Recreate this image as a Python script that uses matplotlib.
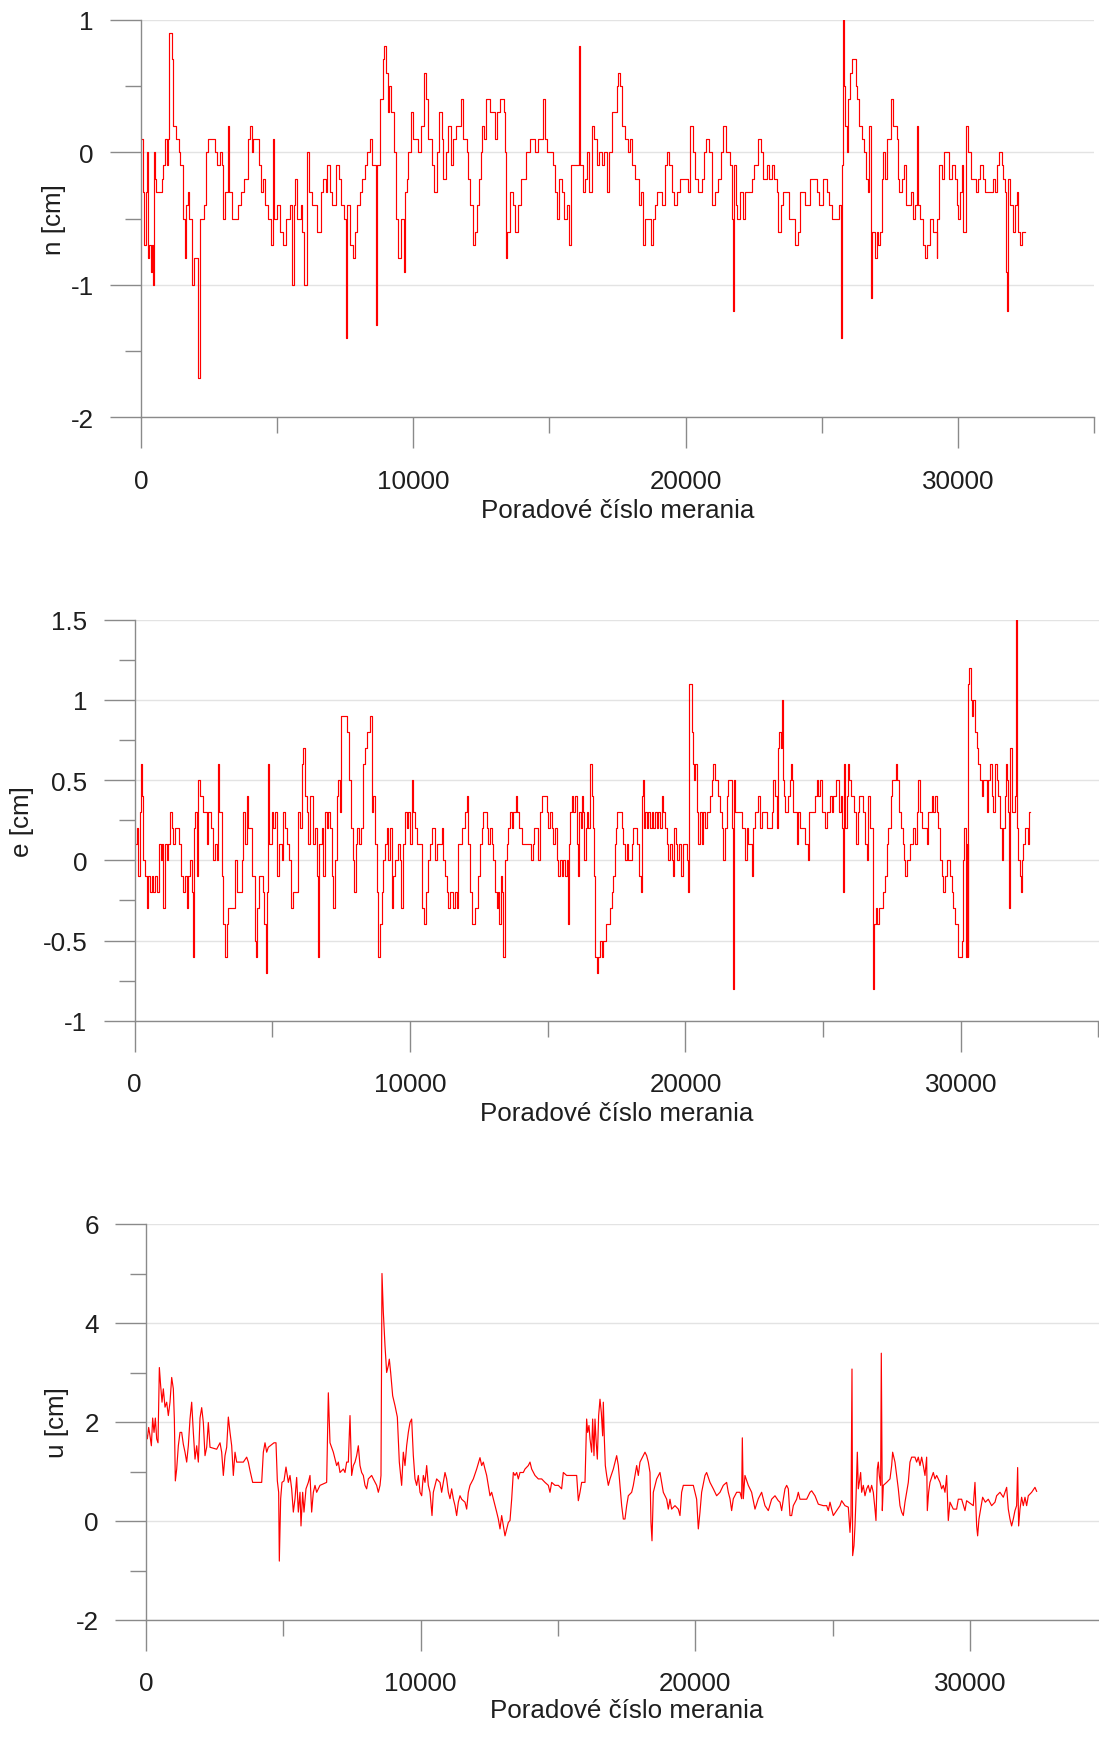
import matplotlib
matplotlib.use("Agg")
import matplotlib.pyplot as plt
from matplotlib.ticker import MultipleLocator, FuncFormatter

plt.rcParams['font.family'] = ['Liberation Sans', 'DejaVu Sans']
plt.rcParams['axes.unicode_minus'] = False

# ---------------- data: n [cm]  (measurement index, value) ----------------
n_pts = [(0,0.1),(60,-0.3),(120,-0.7),(180,-0.3),(220,0.0),(260,-0.8),(300,-0.7),(350,-0.9),(400,-0.7),(430,-1.0),
(460,0.0),(500,-0.2),(560,-0.3),(760,-0.2),(820,-0.1),(890,0.1),(950,-0.1),(1000,0.1),(1040,0.9),(1140,0.7),
(1190,0.2),(1280,0.1),(1380,0.0),(1450,-0.1),(1550,-0.5),(1600,-0.8),(1650,-0.4),(1720,-0.3),(1780,-0.5),(1880,-1.0),
(1960,-0.8),(2080,-1.7),(2160,-0.5),(2300,-0.4),(2370,0.0),(2450,0.1),(2700,0.0),(2800,-0.1),(2900,0.0),(2970,-0.1),
(3020,-0.5),(3080,-0.3),(3190,0.2),(3230,-0.3),(3350,-0.5),(3550,-0.4),(3680,-0.3),(3800,-0.2),(3940,0.1),(4000,0.2),
(4060,0.0),(4130,0.1),(4330,-0.1),(4400,-0.3),(4470,-0.2),(4560,-0.4),(4650,-0.5),(4760,-0.7),(4860,0.1),(4900,-0.5),
(5000,-0.4),(5120,-0.6),(5210,-0.7),(5330,-0.5),(5460,-0.4),(5553,-1.0),(5614,-0.4),(5663,-0.2),(5737,-0.5),(5860,-0.4),
(5921,-0.6),(5983,-1.0),(6081,0.0),(6167,-0.3),(6290,-0.4),(6474,-0.6),(6597,-0.3),(6683,-0.2),(6781,-0.3),(6843,-0.1),
(6941,-0.3),(7027,-0.4),(7150,-0.1),(7273,-0.2),(7359,-0.4),(7457,-0.5),(7518,-1.4),(7580,-0.4),(7678,-0.7),(7789,-0.8),
(7850,-0.6),(7924,-0.4),(8047,-0.3),(8133,-0.2),(8231,-0.1),(8317,0.0),(8415,0.1),(8501,-0.1),(8624,-1.3),(8685,-0.1),
(8784,0.4),(8870,0.7),(8931,0.8),(8993,0.6),(9054,0.3),(9116,0.5),(9177,0.3),(9300,0.0),(9361,-0.5),(9447,-0.8),
(9545,-0.5),(9660,-0.9),(9697,-0.3),(9758,-0.2),(9819,0.0),(9905,0.3),(9978,0.1),(10186,0.0),(10272,0.2),(10394,0.6),
(10468,0.4),(10553,0.1),(10676,-0.1),(10761,-0.3),(10860,0.0),(10957,0.3),(11043,0.1),(11104,-0.2),(11202,0.0),(11288,0.2),
(11373,-0.1),(11471,0.1),(11569,0.2),(11741,0.4),(11839,0.1),(11961,0.0),(12022,-0.2),(12083,-0.4),(12181,-0.7),(12267,-0.6),
(12353,-0.4),(12414,-0.2),(12475,0.0),(12536,0.2),(12597,0.1),(12671,0.4),(12818,0.3),(13001,0.1),(13087,0.3),(13185,0.4),
(13332,0.3),(13369,0.0),(13405,-0.8),(13454,-0.6),(13552,-0.3),(13650,-0.4),(13736,-0.6),(13858,-0.4),(13944,-0.2),(14140,0.0),
(14287,0.1),(14470,0.0),(14593,0.1),(14752,0.4),(14837,0.1),(14899,0.0),(15119,-0.1),(15205,-0.3),(15266,-0.5),(15364,-0.2),
(15450,-0.3),(15535,-0.5),(15633,-0.4),(15719,-0.7),(15780,-0.1),(16086,0.8),(16123,-0.1),(16221,-0.3),(16306,-0.2),(16367,0.0),
(16465,-0.3),(16563,0.2),(16637,0.1),(16735,-0.1),(16833,0.0),(16918,-0.1),(17004,0.0),(17126,-0.3),(17200,0.0),(17285,0.3),
(17469,0.5),(17530,0.6),(17591,0.5),(17677,0.2),(17775,0.1),(17873,0.0),(17959,0.1),(18020,-0.1),(18142,-0.2),(18277,-0.4),
(18350,-0.3),(18424,-0.7),(18509,-0.5),(18717,-0.7),(18815,-0.5),(18877,-0.4),(18962,-0.3),(19146,-0.4),(19244,-0.1),(19305,0.0),
(19403,-0.1),(19489,-0.3),(19574,-0.4),(19672,-0.3),(19795,-0.2),(20101,-0.3),(20162,0.2),(20260,0.0),(20345,-0.2),(20468,-0.3),
(20590,-0.2),(20676,0.0),(20749,0.1),(20872,0.0),(20957,-0.4),(21080,-0.3),(21202,-0.2),(21288,0.0),(21386,0.2),(21484,0.0),
(21631,-0.1),(21704,-0.5),(21729,-1.2),(21778,-0.1),(21851,-0.4),(21900,-0.5),(21998,-0.3),(22096,-0.5),(22181,-0.3),(22426,-0.2),
(22512,-0.1),(22671,0.1),(22757,0.0),(22855,-0.2),(22977,-0.1),(23075,-0.2),(23161,-0.1),(23246,-0.2),(23344,-0.3),(23405,-0.6),
(23491,-0.4),(23589,-0.3),(23809,-0.5),(24030,-0.7),(24140,-0.6),(24204,-0.3),(24388,-0.4),(24571,-0.2),(24816,-0.3),(24914,-0.4),
(25036,-0.2),(25183,-0.3),(25281,-0.4),(25367,-0.5),(25648,-0.4),(25697,-1.4),(25734,-0.1),(25771,1.0),(25820,0.5),(25856,0.2),
(25918,0.0),(25979,0.4),(26040,0.6),(26101,0.7),(26248,0.5),(26309,0.4),(26383,0.2),(26493,0.1),(26554,0.0),(26615,-0.2),
(26689,-0.3),(26750,0.2),(26799,-1.1),(26836,-0.6),(26958,-0.8),(27019,-0.6),(27080,-0.7),(27142,-0.6),(27203,-0.2),(27264,0.0),
(27325,-0.2),(27386,0.1),(27546,0.4),(27631,0.2),(27754,0.1),(27815,-0.2),(27852,-0.3),(27937,-0.2),(28023,-0.1),(28096,-0.4),
(28280,-0.3),(28341,-0.5),(28427,-0.4),(28488,0.2),(28549,-0.4),(28610,-0.5),(28708,-0.7),(28794,-0.8),(28880,-0.7),(28978,-0.5),
(29076,-0.6),(29222,-0.8),(29247,-0.5),(29320,-0.1),(29406,-0.2),(29492,0.0),(29688,-0.2),(29773,-0.1),(29896,-0.2),(29957,-0.4),
(30018,-0.5),(30079,-0.3),(30140,-0.1),(30202,-0.6),(30287,0.2),(30385,0.0),(30471,-0.2),(30667,-0.3),(30752,-0.2),(30814,-0.1),
(30912,-0.2),(30997,-0.3),(31279,-0.2),(31364,-0.3),(31450,-0.1),(31511,0.0),(31609,-0.1),(31670,-0.2),(31732,-0.3),(31768,-0.9),
(31793,-1.2),(31830,-0.2),(31915,-0.4),(32013,-0.6),(32100,-0.4),(32160,-0.3),(32221,-0.6),(32282,-0.7),(32343,-0.6),(32466,-0.6)]

# ---------------- data: e [cm] ----------------
e_pts = [(0,0.1),(71,0.2),(132,-0.1),(192,0.3),(229,0.6),(277,0.4),(313,0.0),(374,-0.1),(434,-0.3),(495,-0.1),
(555,-0.2),(616,-0.1),(677,-0.2),(737,-0.1),(798,-0.2),(894,0.1),(943,0.0),(991,0.1),(1040,-0.3),(1100,0.1),
(1161,0.0),(1221,0.1),(1282,0.3),(1342,0.2),(1403,0.1),(1463,0.2),(1621,0.1),(1681,-0.1),(1742,-0.2),(1826,-0.1),
(1887,-0.3),(1948,-0.1),(2008,0.0),(2069,-0.2),(2105,-0.6),(2153,0.2),(2202,0.3),(2250,-0.1),(2311,0.5),(2371,0.4),
(2492,0.3),(2613,0.1),(2674,0.3),(2759,0.2),(2855,0.0),(2916,0.1),(2976,0.0),(3013,0.6),(3073,0.3),(3158,-0.1),
(3219,-0.4),(3279,-0.6),(3340,-0.4),(3400,-0.3),(3642,0.0),(3703,-0.2),(3884,0.0),(3945,0.3),(4005,0.1),(4066,0.4),
(4126,0.2),(4247,-0.1),(4369,-0.5),(4405,-0.6),(4453,-0.3),(4526,-0.1),(4671,-0.2),(4707,-0.4),(4756,-0.7),(4792,-0.2),
(4829,0.6),(4889,0.1),(4974,0.3),(5034,0.2),(5095,0.3),(5180,-0.1),(5252,0.1),(5337,0.0),(5397,0.3),(5458,0.2),
(5543,0.1),(5615,0.0),(5676,-0.3),(5736,-0.2),(5942,0.3),(6003,0.2),(6075,0.6),(6124,0.7),(6184,0.4),(6245,0.3),
(6305,0.1),(6366,0.4),(6463,0.1),(6547,0.2),(6608,-0.1),(6668,-0.6),(6705,0.1),(6790,0.2),(6850,-0.1),(6911,0.3),
(6971,0.2),(7032,0.3),(7092,0.2),(7153,-0.1),(7213,-0.3),(7274,0.0),(7334,0.4),(7395,0.5),(7455,0.3),(7492,0.9),
(7722,0.8),(7794,0.5),(7843,0.2),(7915,0.0),(7964,-0.2),(8036,0.1),(8085,0.2),(8157,0.1),(8206,0.2),(8278,0.6),
(8363,0.7),(8424,0.8),(8545,0.9),(8605,0.3),(8666,0.4),(8726,0.1),(8787,-0.2),(8847,-0.6),(8908,-0.4),(8968,-0.2),
(9029,0.0),(9089,0.1),(9150,0.2),(9211,0.0),(9271,0.2),(9332,-0.3),(9392,-0.1),(9453,0.0),(9574,0.1),(9634,0.0),
(9670,-0.3),(9731,0.1),(9816,0.3),(9876,0.2),(9937,0.3),(9997,0.1),(10058,0.5),(10118,0.3),(10179,0.2),(10239,0.1),
(10421,-0.3),(10506,-0.4),(10578,-0.2),(10663,0.0),(10724,0.1),(10784,0.2),(10905,0.0),(10966,0.1),(11147,0.2),(11208,0.0),
(11268,-0.1),(11329,-0.2),(11390,-0.3),(11450,-0.2),(11571,-0.3),(11632,-0.2),(11692,-0.3),(11753,0.1),(11874,0.2),(11995,0.3),
(12055,0.4),(12116,0.1),(12176,-0.2),(12237,-0.4),(12358,-0.3),(12479,-0.1),(12540,0.1),(12600,0.2),(12661,0.3),(12782,0.2),
(12842,0.1),(12903,0.2),(12963,0.1),(13024,0.0),(13084,-0.2),(13145,-0.3),(13205,-0.2),(13242,-0.4),(13290,-0.1),(13351,-0.2),
(13387,-0.6),(13447,0.0),(13508,0.1),(13568,0.2),(13629,0.3),(13690,0.2),(13750,0.3),(13847,0.4),(13895,0.3),(13968,0.2),
(14053,0.1),(14380,0.0),(14452,0.1),(14513,0.2),(14658,0.0),(14719,0.3),(14779,0.4),(14961,0.3),(15021,0.2),(15082,0.3),
(15142,0.2),(15203,0.1),(15263,0.2),(15324,0.0),(15384,-0.1),(15445,0.0),(15505,-0.1),(15566,0.0),(15627,-0.1),(15687,0.0),
(15723,-0.4),(15772,0.1),(15808,0.3),(15868,0.4),(15929,0.3),(15990,0.4),(16050,0.1),(16086,-0.1),(16147,0.3),(16195,0.2),
(16232,0.4),(16292,0.3),(16329,0.0),(16377,0.2),(16413,0.3),(16474,0.2),(16534,0.6),(16595,0.4),(16655,0.2),(16680,-0.1),
(16716,-0.6),(16776,-0.7),(16837,-0.6),(16897,-0.5),(16958,-0.6),(17018,-0.5),(17103,-0.4),(17261,-0.3),(17321,-0.2),(17382,-0.1),
(17442,0.1),(17478,0.2),(17527,0.3),(17684,0.2),(17745,0.1),(17805,0.0),(17866,0.1),(17926,0.0),(18047,0.1),(18108,0.2),
(18229,0.1),(18326,-0.1),(18374,-0.2),(18410,0.4),(18447,0.5),(18495,0.2),(18532,0.3),(18592,0.2),(18653,0.3),(18713,0.2),
(18774,0.3),(18834,0.2),(18895,0.3),(18956,0.2),(19016,0.3),(19077,0.2),(19137,0.4),(19198,0.3),(19258,0.2),(19319,0.1),
(19379,0.0),(19440,0.1),(19500,0.0),(19536,-0.1),(19597,0.2),(19657,0.1),(19706,0.0),(19778,0.1),(19827,-0.1),(19899,0.1),
(20045,0.0),(20105,-0.2),(20142,1.1),(20226,0.8),(20263,0.6),(20311,0.5),(20347,0.6),(20408,0.3),(20468,0.1),(20529,0.3),
(20589,0.1),(20650,0.3),(20710,0.2),(20771,0.3),(20892,0.4),(20953,0.5),(21013,0.6),(21074,0.5),(21195,0.4),(21255,0.3),
(21316,0.2),(21376,0.0),(21437,0.2),(21497,0.4),(21558,0.5),(21679,0.2),(21715,-0.8),(21764,0.5),(21800,0.3),(22042,0.2),
(22163,0.0),(22224,0.2),(22284,0.1),(22405,-0.1),(22466,0.2),(22526,0.3),(22647,0.4),(22708,0.2),(22768,0.3),(22950,0.2),
(23131,0.3),(23192,0.5),(23252,0.4),(23313,0.2),(23349,0.7),(23398,0.8),(23459,0.7),(23507,1.0),(23531,0.7),(23555,0.5),
(23592,0.4),(23628,0.3),(23737,0.4),(23797,0.5),(23834,0.6),(23882,0.5),(23919,0.3),(24040,0.1),(24100,0.3),(24161,0.2),
(24342,0.1),(24439,0.0),(24499,0.3),(24705,0.4),(24766,0.5),(24826,0.4),(24887,0.5),(24948,0.3),(25068,0.2),(25129,0.3),
(25250,0.4),(25311,0.3),(25371,0.4),(25468,0.5),(25589,0.3),(25638,0.4),(25674,0.2),(25710,-0.2),(25758,0.6),(25807,0.2),
(25855,0.4),(25904,0.6),(25952,0.5),(26000,0.4),(26134,0.3),(26194,0.1),(26255,0.3),(26315,0.4),(26461,0.3),(26521,0.1),
(26582,0.0),(26642,0.4),(26703,0.2),(26799,-0.8),(26848,-0.4),(26908,-0.3),(26969,-0.4),(27041,-0.3),(27187,-0.2),(27247,-0.1),
(27308,0.1),(27368,0.2),(27453,0.4),(27514,0.5),(27635,0.6),(27695,0.5),(27768,0.3),(27816,0.2),(27889,0.1),(27937,0.0),
(27986,-0.1),(28034,0.0),(28155,0.1),(28276,0.2),(28337,0.1),(28397,0.3),(28458,0.5),(28518,0.3),(28579,0.2),(28761,0.1),
(28821,0.3),(28942,0.4),(29003,0.3),(29063,0.4),(29124,0.3),(29184,0.2),(29245,0.0),(29305,-0.1),(29366,-0.2),(29426,-0.1),
(29487,0.0),(29608,-0.1),(29668,-0.2),(29729,-0.3),(29789,-0.4),(29910,-0.6),(30032,-0.5),(30092,0.0),(30128,0.2),(30177,-0.6),
(30213,0.1),(30249,-0.6),(30274,1.1),(30310,1.2),(30358,1.0),(30407,0.9),(30455,1.0),(30516,0.8),(30576,0.7),(30637,0.6),
(30697,0.5),(30758,0.4),(30818,0.5),(30939,0.3),(31000,0.5),(31060,0.6),(31121,0.4),(31182,0.3),(31242,0.6),(31303,0.5),
(31363,0.4),(31424,0.2),(31484,0.0),(31545,0.2),(31605,0.4),(31641,0.6),(31690,0.5),(31726,0.3),(31763,-0.3),(31787,0.7),
(31847,0.3),(31968,0.4),(32005,1.5),(32029,0.8),(32053,0.2),(32090,0.0),(32150,-0.1),(32187,-0.2),(32235,0.0),(32271,0.1),
(32332,0.2),(32453,0.1),(32489,0.3),(32520,0.3)]

# ---------------- data: u [cm] ----------------
u_pts = [(0,1.79),(49,1.66),(97,1.89),(146,1.72),(195,1.52),(243,2.08),(292,1.79),(340,2.08),(389,1.66),(437,1.58),
(486,3.10),(534,2.73),(583,2.40),(631,2.67),(692,2.30),(753,2.40),(813,2.13),(874,2.40),(935,2.90),(995,2.67),
(1032,2.06),(1068,0.81),(1117,1.05),(1177,1.52),(1238,1.79),(1299,1.79),(1359,1.55),(1420,1.39),(1481,1.19),(1541,1.52),
(1602,2.06),(1663,2.40),(1723,1.79),(1784,1.25),(1845,1.52),(1905,1.19),(1966,2.08),(2027,2.29),(2087,1.99),(2148,1.32),
(2209,1.49),(2269,1.99),(2330,1.49),(2573,1.45),(2694,1.58),(2755,1.39),(2815,0.92),(2876,1.32),(2937,1.49),(2997,2.10),
(3058,1.79),(3119,1.52),(3179,0.92),(3240,1.39),(3301,1.19),(3543,1.19),(3665,1.29),(3725,1.19),(3786,1.02),(3883,0.78),
(4211,0.78),(4271,1.39),(4332,1.58),(4393,1.39),(4453,1.49),(4659,1.58),(4732,1.58),(4781,0.81),(4829,0.58),(4853,-0.81),
(4902,0.45),(4950,0.78),(5023,0.81),(5096,1.09),(5181,0.78),(5242,0.92),(5302,0.65),(5363,0.18),(5424,0.45),(5484,0.88),
(5545,0.18),(5606,0.58),(5642,-0.10),(5703,0.58),(5751,0.18),(5824,0.65),(5909,0.78),(5970,0.92),(6030,0.18),(6091,0.58),
(6152,0.72),(6212,0.58),(6334,0.72),(6576,0.78),(6637,2.59),(6698,1.58),(6819,1.39),(6880,1.25),(6940,1.12),(7001,1.19),
(7062,0.98),(7183,1.05),(7244,0.98),(7304,1.19),(7365,1.19),(7426,2.13),(7486,0.92),(7547,1.12),(7608,1.19),(7668,1.32),
(7729,1.52),(7790,1.12),(7850,0.98),(7911,0.92),(7972,0.72),(8032,0.65),(8093,0.85),(8214,0.92),(8275,0.85),(8396,0.72),
(8457,0.58),(8518,0.72),(8554,0.92),(8590,5.00),(8639,4.22),(8700,3.54),(8760,3.00),(8821,3.14),(8857,3.27),(8906,3.00),
(8979,2.53),(9064,2.33),(9149,2.10),(9221,1.19),(9306,0.72),(9367,1.39),(9428,1.12),(9488,1.52),(9549,1.79),(9610,1.99),
(9670,2.06),(9731,1.32),(9792,0.85),(9852,0.72),(9913,0.92),(9974,0.58),(10035,0.51),(10095,0.92),(10156,0.78),(10217,1.12),
(10277,0.72),(10338,0.58),(10411,0.11),(10459,0.58),(10520,0.72),(10580,0.85),(10702,0.78),(10762,0.58),(10823,0.78),(10884,0.98),
(10944,0.85),(11005,0.58),(11066,0.45),(11126,0.65),(11187,0.45),(11248,0.31),(11308,0.11),(11369,0.38),(11430,0.51),(11491,0.44),
(11612,0.38),(11673,0.24),(11733,0.58),(11794,0.72),(11915,0.85),(12037,1.05),(12158,1.28),(12219,1.12),(12279,1.19),(12340,1.05),
(12401,0.92),(12461,0.72),(12522,0.51),(12583,0.58),(12643,0.45),(12704,0.31),(12765,0.18),(12825,0.04),(12886,-0.16),(12947,0.11),
(13007,-0.10),(13068,-0.30),(13129,-0.16),(13189,-0.03),(13250,0.01),(13311,0.44),(13371,0.98),(13432,0.92),(13493,0.98),(13553,0.85),
(13614,0.98),(13735,0.98),(13796,1.05),(13917,1.12),(13978,1.19),(14039,1.05),(14160,0.92),(14281,0.85),(14403,0.85),(14524,0.78),
(14645,0.72),(14706,0.58),(14767,0.78),(14888,0.72),(15009,0.72),(15130,0.65),(15191,0.98),(15313,0.92),(15434,0.92),(15555,0.92),
(15677,0.92),(15737,0.41),(15798,0.58),(15859,0.78),(15980,0.78),(16040,2.06),(16077,1.79),(16125,1.93),(16162,1.66),(16222,1.39),
(16259,2.06),(16307,1.32),(16344,2.06),(16380,1.66),(16429,1.25),(16477,2.13),(16526,2.46),(16574,2.19),(16623,1.72),(16647,2.40),
(16684,1.66),(16720,1.12),(16769,0.92),(16829,0.72),(16890,0.85),(17011,1.05),(17133,1.32),(17193,1.12),(17254,0.72),(17315,0.31),
(17375,0.04),(17436,0.04),(17497,0.31),(17557,0.51),(17679,0.58),(17739,0.72),(17800,0.92),(17861,1.12),(17921,0.92),(17982,1.19),
(18103,1.32),(18164,1.39),(18225,1.32),(18285,1.19),(18346,0.98),(18382,-0.03),(18419,-0.40),(18467,0.58),(18589,0.85),(18710,0.98),
(18770,0.78),(18831,0.58),(18953,0.44),(19013,0.24),(19074,0.44),(19134,0.24),(19256,0.31),(19377,0.24),(19438,0.11),(19498,0.58),
(19559,0.72),(19923,0.72),(20044,0.44),(20105,-0.16),(20166,0.18),(20226,0.58),(20348,0.92),(20408,0.98),(20530,0.78),(20651,0.65),
(20772,0.51),(20894,0.58),(21015,0.72),(21136,0.78),(21197,0.58),(21258,0.45),(21318,0.21),(21379,0.45),(21500,0.58),(21622,0.58),
(21682,0.45),(21707,1.68),(21743,0.45),(21803,0.92),(21925,0.72),(22046,0.58),(22168,0.24),(22289,0.45),(22410,0.58),(22532,0.31),
(22653,0.21),(22774,0.44),(22896,0.51),(23017,0.41),(23078,0.38),(23139,0.21),(23199,0.44),(23260,0.65),(23321,0.72),(23381,0.65),
(23442,0.11),(23503,0.11),(23563,0.31),(23685,0.44),(23745,0.58),(23806,0.44),(23927,0.44),(24049,0.44),(24170,0.58),(24231,0.61),
(24352,0.51),(24473,0.34),(24655,0.31),(24777,0.31),(24837,0.21),(24898,0.38),(24958,0.24),(25019,0.11),(25141,0.21),(25262,0.31),
(25323,0.41),(25444,0.31),(25565,0.28),(25626,-0.23),(25662,0.11),(25699,3.07),(25723,-0.70),(25771,-0.50),(25808,-0.10),(25844,0.44),
(25893,1.39),(25929,0.65),(25966,0.78),(26014,0.98),(26051,0.58),(26111,0.72),(26172,0.51),(26233,0.65),(26293,0.72),(26354,0.58),
(26414,0.72),(26475,0.58),(26536,0.24),(26572,0.01),(26621,1.05),(26657,1.19),(26693,0.92),(26742,0.72),(26766,3.39),(26803,0.21),
(26839,0.72),(26961,0.78),(27082,0.85),(27143,1.12),(27179,1.39),(27264,1.19),(27324,0.92),(27385,0.65),(27446,0.31),(27507,0.18),
(27567,0.11),(27628,0.38),(27689,0.58),(27749,0.78),(27810,1.19),(27871,1.29),(27992,1.29),(28053,1.19),(28113,1.29),(28174,1.12),
(28235,1.29),(28295,1.12),(28356,0.92),(28417,1.29),(28441,0.21),(28489,0.58),(28538,0.78),(28659,0.98),(28720,0.85),(28781,0.92),
(28902,0.78),(28963,0.65),(29023,0.72),(29084,0.58),(29145,0.92),(29205,0.01),(29266,0.38),(29387,0.24),(29508,0.24),(29569,0.44),
(29690,0.44),(29812,0.21),(29872,0.41),(30115,0.31),(30176,0.78),(30237,-0.10),(30273,-0.30),(30321,0.04),(30382,0.24),(30455,0.48),
(30552,0.38),(30661,0.44),(30782,0.31),(30904,0.38),(30964,0.51),(31086,0.58),(31207,0.48),(31329,0.68),(31389,0.24),(31450,0.04),
(31510,-0.10),(31571,0.04),(31632,0.21),(31692,0.31),(31729,1.08),(31765,-0.10),(31814,0.24),(31874,0.48),(31935,0.31),(31996,0.48),
(32056,0.31),(32117,0.51),(32239,0.58),(32360,0.68),(32420,0.60)]

x_label = "Poradové číslo merania"
y_labels = ["n [cm]", "e [cm]", "u [cm]"]

# ---------------- figure ----------------
W, H = 1099, 1740
fig = plt.figure(figsize=(W / 100, H / 100), dpi=100)

# axes rectangles in pixels: (left, right, top, bottom)
rects = [(141, 1094, 20.7, 418.3), (134.7, 1098.5, 620.7, 1021.7), (146, 1107.5, 1225, 1621)]
ylims = [(-2, 1), (-1, 1.5), (-2, 6)]
ymaj = [1.0, 0.5, 2.0]
ylab_x = [-0.0913, -0.1169, -0.0926]
xlab_y = [-0.251, -0.248, -0.245]

spine_col = '#8a8a8a'
grid_col = '#e3e3e3'
txt_col = '#1e1e1e'
fs = 18.7

series = [(n_pts, 'steps-post'), (e_pts, 'steps-post'), (u_pts, 'default')]

for i, ((l, r, t, b), (pts, ds)) in enumerate(zip(rects, series)):
    ax = fig.add_axes([l / W, 1 - b / H, (r - l) / W, (b - t) / H])
    xs = [p[0] for p in pts]
    ys = [p[1] for p in pts]
    ax.plot(xs, ys, color='#ff0000', lw=0.85, drawstyle=ds)
    ax.set_xlim(0, 35000)
    ax.set_ylim(*ylims[i])
    ax.xaxis.set_major_locator(MultipleLocator(10000))
    ax.xaxis.set_minor_locator(MultipleLocator(5000))
    ax.yaxis.set_major_locator(MultipleLocator(ymaj[i]))
    ax.yaxis.set_minor_locator(MultipleLocator(ymaj[i] / 2))
    ax.yaxis.set_major_formatter(FuncFormatter(lambda v, p: '%g' % v))
    ax.xaxis.set_major_formatter(FuncFormatter(lambda v, p: '%d' % v))
    for s in ['top', 'right']:
        ax.spines[s].set_visible(False)
    for s in ['left', 'bottom']:
        ax.spines[s].set_color(spine_col)
        ax.spines[s].set_linewidth(1.0)
    ax.grid(True, axis='y', which='major', color=grid_col, lw=1.0)
    ax.set_axisbelow(True)
    ax.tick_params(axis='both', which='major', direction='out', length=22.5, width=1.0,
                   color=spine_col, labelsize=fs, labelcolor=txt_col)
    ax.tick_params(axis='both', which='minor', direction='out', length=11.5, width=1.0,
                   color=spine_col)
    ax.tick_params(axis='x', which='major', pad=14.5)
    ax.tick_params(axis='y', which='major', pad=11.5)
    ax.set_ylabel(y_labels[i], fontsize=fs, color=txt_col, va='center', ha='center')
    ax.yaxis.set_label_coords(ylab_x[i], 0.5)
    ax.set_xlabel(x_label, fontsize=fs, color=txt_col, va='baseline')
    ax.xaxis.set_label_coords(0.5, xlab_y[i])

fig.savefig('out.png', dpi=100)
